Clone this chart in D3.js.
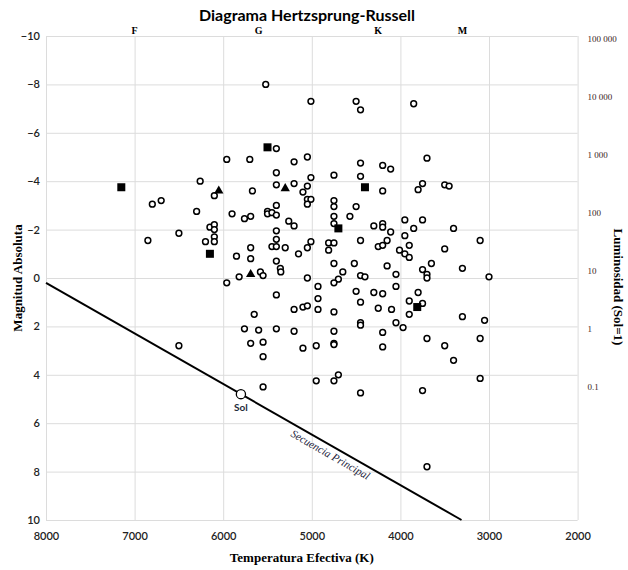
<!DOCTYPE html>
<html>
<head>
<meta charset="utf-8">
<script src="https://cdn.jsdelivr.net/npm/d3@7"></script>
<style>
  body { margin: 0; background: #fff; }
  svg { display: block; }
  .grid line { stroke: #dcdcdc; stroke-width: 1; }
  .grid path { display: none; }
  .tick-labels path { display: none; }
</style>
</head>
<body>
<svg id="hr-chart" width="628" height="570"></svg>
<script>
// [temperatura K, magnitud absoluta]
const stars = [
  [5520, -8.0], [5010, -7.3], [5400, -5.35], [5960, -4.9], [5700, -4.9], [5200, -4.8], [5050, -5.0],
  [5400, -4.35], [5010, -4.15], [6260, -4.0], [6100, -3.4], [5670, -3.6], [5400, -3.85], [5200, -3.9],
  [5050, -3.8], [5100, -3.55], [5050, -3.25], [5010, -3.25], [5050, -3.05], [6800, -3.05], [6700, -3.2],
  [6300, -2.75], [5900, -2.65], [5760, -2.45], [5690, -2.55], [5500, -2.75], [5500, -2.65], [5450, -2.7],
  [5400, -2.6], [5400, -3.0], [5260, -2.35], [5200, -2.15], [6150, -2.1], [6100, -2.2], [6100, -2.0],
  [6500, -1.85], [6850, -1.55], [6200, -1.5], [6100, -1.7], [6100, -1.5], [5400, -1.95], [5400, -1.6],
  [5450, -1.3], [5400, -1.3], [5300, -1.25], [5010, -1.5], [5050, -1.25], [5850, -0.9], [5690, -1.25],
  [5690, -0.8], [5150, -1.0], [5400, -0.7], [5355, -0.4], [5350, -0.25], [5580, -0.25], [5550, -0.1],
  [5820, -0.05], [5050, 0], [4500, -7.3], [4450, -6.95], [3850, -7.2], [4450, -4.75], [4200, -4.65],
  [4110, -4.5], [3700, -4.95], [4750, -4.25], [4450, -4.2], [4200, -3.6], [3750, -3.9], [3800, -3.65],
  [3500, -3.85], [3450, -3.8], [4750, -3.2], [4750, -2.95], [4500, -2.95], [4570, -2.55], [4750, -2.55],
  [4750, -2.25], [4300, -2.15], [4200, -2.25], [4200, -2.1], [4110, -1.9], [3950, -2.4], [3850, -2.05],
  [3750, -2.4], [3400, -2.05], [3950, -1.75], [4810, -1.45], [4810, -1.15], [4750, -1.45], [4450, -1.55],
  [4250, -1.3], [4200, -1.35], [4150, -1.55], [4010, -1.15], [3950, -1.0], [3900, -0.85], [3900, -1.35],
  [3500, -1.2], [3100, -1.55], [4750, -0.6], [4650, -0.25], [4520, -0.6], [4450, -0.1], [4400, -0.05],
  [4150, -0.5], [4050, -0.15], [3750, -0.35], [3700, -0.15], [3700, 0], [3650, -0.6], [3300, -0.4],
  [3000, -0.05], [4700, 0.05], [5960, 0.2], [4930, 0.35], [5400, 0.7], [5200, 1.3], [5100, 1.2],
  [5050, 1.15], [4930, 0.85], [4930, 1.3], [5650, 1.5], [5760, 2.1], [5600, 2.15], [5400, 2.1],
  [5200, 2.2], [5690, 2.7], [5550, 2.65], [5550, 3.25], [5100, 2.9], [4950, 2.8], [6500, 2.8],
  [4950, 4.25], [5550, 4.5], [4750, 0.2], [4500, 0.55], [4300, 0.6], [4200, 0.65], [4050, 0.35],
  [3800, 0.6], [4750, 1.4], [4450, 1.0], [4250, 1.25], [4100, 1.3], [3900, 0.95], [3750, 1.05],
  [3900, 1.5], [4050, 1.85], [3970, 2.05], [4450, 1.85], [4450, 1.95], [4750, 2.2], [4200, 2.25],
  [3700, 2.5], [3300, 1.6], [3050, 1.75], [3100, 2.5], [3500, 2.8], [3400, 3.4], [4750, 2.7],
  [4750, 2.75], [4200, 2.85], [4750, 4.25], [4700, 4.0], [4450, 4.75], [3750, 4.65], [3100, 4.15],
  [3700, 7.8]
];
const squareStars = [[5500, -5.4], [7150, -3.75], [6150, -1.0], [4400, -3.75], [4700, -2.05], [3810, 1.2]];
const triangleStars = [[6050, -3.6], [5300, -3.7], [5690, -0.15]];
const sun = [[5800, 4.8]];
const mainSequence = [[8000, 0.2], [3310, 10]];

const tempTicks = [8000, 7000, 6000, 5000, 4000, 3000, 2000];
const magTicks = [-10, -8, -6, -4, -2, 0, 2, 4, 6, 8, 10];
const lumTicks = [100000, 10000, 1000, 100, 10, 1, 0.1];
const lumLabels = ["100 000", "10 000", "1 000", "100", "10", "1", "0.1"];
const spectralClasses = ["F", "G", "K", "M"];
const spectralTemps = [7000, 5600, 4250, 3300];

const svg = d3.select("#hr-chart");
const plotLeft = 46, plotRight = 577.6, plotTop = 36, plotBottom = 520;

const x = d3.scaleLinear().domain([8000, 2000]).range([plotLeft, plotRight]);
const y = d3.scaleLinear().domain([-10, 10]).range([plotTop, plotBottom]);
const lum = d3.scaleLog().domain([100000, 0.1]).range([y(-9.9), y(4.5)]);

// grid
svg.append("g")
   .attr("class", "grid")
   .attr("transform", `translate(0,${plotBottom})`)
   .call(d3.axisBottom(x).tickValues(tempTicks).tickSize(-(plotBottom - plotTop)).tickFormat(""));
svg.append("g")
   .attr("class", "grid")
   .attr("transform", `translate(${plotLeft},0)`)
   .call(d3.axisLeft(y).tickValues(magTicks).tickSize(-(plotRight - plotLeft)).tickFormat(""));

// axis labels
const sansTick = "Lato, 'Open Sans', sans-serif";
const serif = "'Liberation Serif', 'DejaVu Serif', serif";

const gx = svg.append("g")
   .attr("class", "tick-labels")
   .attr("transform", `translate(0,${plotBottom})`)
   .call(d3.axisBottom(x).tickValues(tempTicks).tickSize(0).tickPadding(12).tickFormat(d3.format("d")));
gx.selectAll("text").attr("font-family", sansTick).attr("font-size", 11).attr("font-weight", 600).attr("fill", "#222");

const gy = svg.append("g")
   .attr("class", "tick-labels")
   .attr("transform", `translate(${plotLeft},0)`)
   .call(d3.axisLeft(y).tickValues(magTicks).tickSize(0).tickPadding(6));
gy.selectAll("text").attr("font-family", sansTick).attr("font-size", 11).attr("font-weight", 600).attr("fill", "#222");

const gr = svg.append("g")
   .attr("class", "tick-labels")
   .attr("transform", `translate(${plotRight},0)`)
   .call(d3.axisRight(lum).tickValues(lumTicks).tickSize(0).tickPadding(10)
          .tickFormat((d, i) => lumLabels[i]));
gr.selectAll("text").attr("font-family", serif).attr("font-size", 9).attr("fill", "#3a2424");

// spectral classes
svg.append("g").selectAll("text")
   .data(spectralClasses)
   .enter()
   .append("text")
   .text(d => d)
   .attr("x", (d, i) => x(spectralTemps[i]))
   .attr("y", plotTop - 2)
   .attr("text-anchor", "middle")
   .attr("font-family", serif)
   .attr("font-weight", "bold")
   .attr("font-size", 10);

// titles
svg.append("text")
   .text("Diagrama Hertzsprung-Russell")
   .attr("x", 307).attr("y", 21)
   .attr("text-anchor", "middle")
   .attr("font-family", sansTick)
   .attr("font-weight", "bold")
   .attr("font-size", 16);

svg.append("text")
   .text("Temperatura Efectiva (K)")
   .attr("x", (plotLeft + plotRight) / 2 - 10).attr("y", 562)
   .attr("text-anchor", "middle")
   .attr("font-family", serif)
   .attr("font-weight", "bold")
   .attr("font-size", 13);

svg.append("text")
   .text("Magnitud Absoluta")
   .attr("transform", `translate(22,${y(0)}) rotate(-90)`)
   .attr("text-anchor", "middle")
   .attr("font-family", serif)
   .attr("font-weight", "bold")
   .attr("font-size", 13);

svg.append("text")
   .text("Luminosidad (Sol=1)")
   .attr("transform", `translate(614,287) rotate(90)`)
   .attr("text-anchor", "middle")
   .attr("font-family", serif)
   .attr("font-weight", "bold")
   .attr("font-size", 13);

// main sequence
const line = d3.line().x(d => x(d[0])).y(d => y(d[1]));
svg.append("path")
   .datum(mainSequence)
   .attr("d", line)
   .attr("fill", "none")
   .attr("stroke", "#000")
   .attr("stroke-width", 2);

const p0 = [x(mainSequence[0][0]), y(mainSequence[0][1])];
const p1 = [x(mainSequence[1][0]), y(mainSequence[1][1])];
const angle = Math.atan2(p1[1] - p0[1], p1[0] - p0[0]) * 180 / Math.PI;
const labelT = 5180;
const labelM = mainSequence[0][1] + (mainSequence[0][0] - labelT) / (mainSequence[0][0] - mainSequence[1][0]) * (mainSequence[1][1] - mainSequence[0][1]);
svg.append("text")
   .text("Secuencia Principal")
   .attr("transform", `translate(${x(labelT)},${y(labelM)}) rotate(${angle})`)
   .attr("y", 12)
   .attr("font-family", serif)
   .attr("font-style", "italic")
   .attr("font-size", 11)
   .attr("fill", "#1c1c3c");

// stars
svg.append("g").selectAll("circle")
   .data(stars)
   .enter()
   .append("circle")
   .attr("cx", d => x(d[0]))
   .attr("cy", d => y(d[1]))
   .attr("r", 2.9)
   .attr("fill", "#fff")
   .attr("stroke", "#000")
   .attr("stroke-width", 1.5);

svg.append("g").selectAll("rect")
   .data(squareStars)
   .enter()
   .append("rect")
   .attr("x", d => x(d[0]) - 4)
   .attr("y", d => y(d[1]) - 4)
   .attr("width", 8)
   .attr("height", 8)
   .attr("fill", "#000");

svg.append("g").selectAll("path")
   .data(triangleStars)
   .enter()
   .append("path")
   .attr("d", d3.symbol(d3.symbolTriangle, 38))
   .attr("transform", d => `translate(${x(d[0])},${y(d[1])})`)
   .attr("fill", "#000");

// Sol
svg.append("g").selectAll("circle")
   .data(sun)
   .enter()
   .append("circle")
   .attr("cx", d => x(d[0]))
   .attr("cy", d => y(d[1]))
   .attr("r", 4.6)
   .attr("fill", "#fff")
   .attr("stroke", "#000")
   .attr("stroke-width", 1.3);

svg.append("text")
   .text("Sol")
   .attr("x", x(sun[0][0]))
   .attr("y", y(sun[0][1]) + 17)
   .attr("text-anchor", "middle")
   .attr("font-family", sansTick)
   .attr("font-weight", "bold")
   .attr("font-size", 10)
   .attr("fill", "#222a3a");
</script>
</body>
</html>
